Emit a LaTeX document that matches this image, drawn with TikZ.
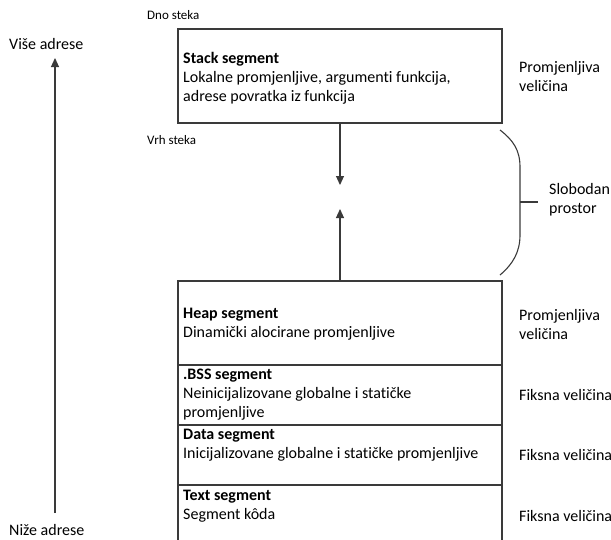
\documentclass[tikz,border=0pt]{standalone}
\usepackage{fontspec}
\setmainfont{Carlito}[Ligatures=NoCommon]
\usetikzlibrary{arrows.meta}
\definecolor{linec}{HTML}{3A3A3A}
\begin{document}
\begin{tikzpicture}[x=1pt,y=-1pt,
  seg/.style={draw=linec, line width=1.1pt, minimum width=324pt, inner sep=0pt, outer sep=0pt, anchor=north west},
  txt/.style={font=\fontsize{16}{19}\selectfont, align=left, anchor=west, inner sep=0pt},
  small/.style={font=\fontsize{13}{15}\selectfont, anchor=west, inner sep=0pt},
  conn/.style={draw=linec, line width=1.1pt},
  arr/.style={conn, -{Triangle[length=9pt,width=8pt]}}]
\useasboundingbox (0,0) rectangle (611,539);
\clip (0,0) rectangle (611,539);
% segments
\node[seg, minimum height=94pt] (stack) at (178,29) {};
\node[seg, minimum height=84pt] (heap) at (178,281) {};
\node[seg, minimum height=60pt] (bss) at (178,365) {};
\node[seg, minimum height=60pt] (data) at (178,425) {};
\node[seg, minimum height=60pt] (textseg) at (178,485) {};
% texts in segments
\node[txt] (stacktxt) at (183,78) {\textbf{Stack segment}\\Lokalne promjenljive, argumenti funkcija,\\adrese povratka iz funkcija};
\node[txt] (heaptxt) at (183,324.5) {\textbf{Heap segment}\\Dinamički alocirane promjenljive};
\node[txt] (bsstxt) at (183,395) {\textbf{.BSS segment}\\Neinicijalizovane globalne i statičke\\promjenljive};
\node[txt] (datatxt) at (183,445.5) {\textbf{Data segment}\\Inicijalizovane globalne i statičke promjenljive};
\node[txt] (texttxt) at (183,506.5) {\textbf{Text segment}\\Segment kôda};
% right labels
\node[txt] (rstack) at (519,76.5) {Promjenljiva\\veličina};
\node[txt] (rheap) at (519,324.5) {Promjenljiva\\veličina};
\node[txt] (rbss) at (519,395) {Fiksna veličina};
\node[txt] (rdata) at (519,455) {Fiksna veličina};
\node[txt] (rtext) at (519,516) {Fiksna veličina};
\node[txt] (free) at (549,200) {Slobodan\\prostor};
% small labels
\node[small] (dno) at (147,15) {Dno steka};
\node[small] (vrh) at (147,140) {Vrh steka};
\node[txt] (vise) at (9,44) {Više adrese};
\node[txt] (nize) at (9,530) {Niže adrese};
% arrows
\coordinate (stacktip) at (340,185);
\coordinate (heaptip) at (340,209);
\draw[arr] (stack.south) -- (stacktip);
\draw[arr] (heap.north) -- (heaptip);
\coordinate (lo) at (55,513);
\coordinate (hi) at (55,58);
\draw[arr] (lo) -- (hi);
% brace
\coordinate (btop) at (500,130);
\coordinate (bbot) at (500,275);
\coordinate (bmid) at (520,202);
\coordinate (btick) at (538,202);
\draw[conn] (btop) .. controls (513,140) and (520,150) .. (520,167) -- (520,235) .. controls (520,252) and (513,264) .. (bbot);
\draw[conn] (bmid) -- (btick);
\end{tikzpicture}
\end{document}
